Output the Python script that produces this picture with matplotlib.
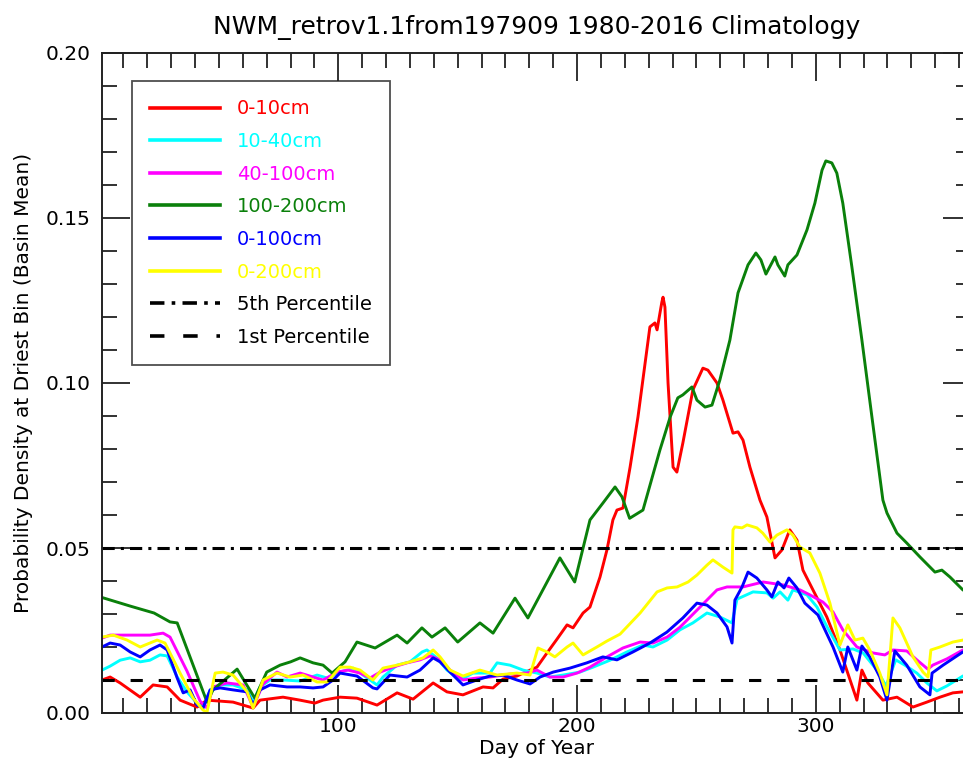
import matplotlib
matplotlib.use('Agg')
import matplotlib.pyplot as plt
from matplotlib.ticker import MultipleLocator

plt.rcParams['font.family'] = ['DejaVu Sans']

# ---- data (day of year, probability density) ----
labels = ['0-10cm', '10-40cm', '40-100cm', '100-200cm', '0-100cm', '0-200cm']
colors = ['#ff0000', '#00ffff', '#ff00ff', '#0a800a', '#0000ff', '#ffff00']

red_day = [1, 4.4, 8.6, 17, 22.4, 28.3, 33.7, 40.8, 45, 55.9, 64.3, 67.2, 76.8, 83.9, 90.2,
           93.6, 100.7, 107.8, 116.2, 124.6, 131.3, 139.7, 145.5, 152.2, 160.6, 164.8, 169,
           174.8, 180.3, 183.2, 187.4, 191.6, 195.8, 198.3, 202.5, 205.4, 209.6, 212.5, 215,
           216.7, 219.2, 222.2, 225.5, 230.5, 232.6, 233.5, 235.5, 236, 236.8, 238.1, 240.2,
           241.8, 244.3, 248.5, 252.7, 254.8, 258.6, 261.1, 265.3, 267.4, 269.5, 272.4, 276.6,
           279.5, 282.9, 285.8, 289.1, 292.1, 294.6, 298.8, 304.6, 310.1, 317.2, 319.3, 321.8,
           328.1, 334, 340.7, 346.5, 352, 357.4, 361.6, 365]
red_val = [.0100, .0109, .0091, .0048, .0085, .0079, .0039, .0018, .0039, .0033, .0015, .0039,
           .0048, .0039, .0030, .0039, .0048, .0045, .0024, .0061, .0042, .0091, .0064, .0055,
           .0079, .0076, .0103, .0112, .0130, .0139, .0182, .0224, .0267, .0258, .0303, .0321,
           .0412, .0494, .0585, .0615, .0621, .0745, .0897, .1170, .1182, .1161, .1245, .1260,
           .1230, .1000, .0745, .0730, .0818, .0979, .1045, .1039, .1000, .0948, .0848, .0852,
           .0827, .0745, .0645, .0594, .0470, .0494, .0555, .0524, .0433, .0373, .0291, .0191,
           .0039, .0130, .0091, .0039, .0048, .0018, .0033, .0048, .0061, .0064, .0062]

cyan_day = [1, 4.4, 8.6, 12.8, 17, 21.1, 25.3, 28.3, 32.5, 36.6, 40.8, 43.3, 46.3, 50.5, 55.9,
            61.8, 64.3, 67.2, 71.4, 76.8, 84, 91.1, 95.3, 100.7, 106.2, 110.3, 116.2, 118.7,
            124.6, 130, 135.1, 137.1, 141.3, 145.5, 151, 156.4, 163.5, 166.5, 171.9, 177.4,
            183.2, 188.6, 194.1, 201.2, 206.7, 213.8, 220.9, 227.6, 231.8, 237.7, 243.1, 248.5,
            254.4, 259.8, 264.9, 267, 273.7, 279.5, 282.1, 285, 288.3, 290.4, 296.3, 300.5,
            304.7, 310.1, 315.6, 319.8, 325.6, 329.4, 333.5, 337.3, 342.3, 346.5, 350.7, 354.9,
            361.6, 365]
cyan_val = [.0130, .0142, .0160, .0167, .0155, .0160, .0176, .0173, .0109, .0064, .0030, .0015,
            .0070, .0085, .0085, .0070, .0033, .0079, .0100, .0100, .0097, .0115, .0106, .0124,
            .0136, .0115, .0085, .0109, .0145, .0155, .0185, .0191, .0167, .0130, .0100, .0121,
            .0121, .0152, .0145, .0130, .0121, .0109, .0115, .0124, .0139, .0160, .0185, .0206,
            .0200, .0221, .0252, .0273, .0303, .0291, .0273, .0345, .0367, .0364, .0348, .0367,
            .0342, .0373, .0358, .0321, .0261, .0191, .0194, .0182, .0130, .0082, .0161, .0145,
            .0121, .0091, .0067, .0082, .0112, .0118]

mag_day = [1, 4.4, 21.1, 26.6, 29.5, 36.6, 42.1, 45, 47.5, 53.4, 60.1, 64.3, 68.5, 74.3, 78.5,
           84, 89.4, 93.6, 99.5, 104, 109.1, 113.3, 117.5, 122.9, 128.8, 134.2, 138.4, 142.6,
           146.8, 152.2, 158, 163.5, 171.9, 179, 183.2, 188.6, 194.1, 200, 205.4, 212.5, 219.2,
           226.4, 231.8, 237.7, 243.1, 251.5, 258.6, 262.8, 269.5, 277.9, 286.3, 293.4, 297.5,
           303, 307.2, 311.3, 317.2, 323.9, 328.9, 332.3, 338.1, 342.3, 346.9, 349, 354.9,
           361.6, 365]
mag_val = [.0227, .0236, .0236, .0242, .0230, .0127, .0036, .0015, .0079, .0091, .0085, .0018,
           .0088, .0124, .0109, .0121, .0109, .0100, .0124, .0130, .0121, .0106, .0124, .0139,
           .0152, .0161, .0173, .0161, .0130, .0100, .0106, .0109, .0118, .0121, .0130, .0109,
           .0109, .0121, .0139, .0170, .0197, .0215, .0212, .0230, .0260, .0321, .0373, .0382,
           .0382, .0397, .0388, .0373, .0358, .0336, .0306, .0252, .0200, .0182, .0176, .0191,
           .0188, .0161, .0133, .0145, .0164, .0191, .0195]

green_day = [1, 1.9, 12.8, 22.8, 29.5, 32.5, 45, 47.5, 57.6, 65, 70, 75.6, 80, 84, 89.4, 93.6,
             97.4, 102.8, 107.8, 115.4, 124.6, 128.8, 135, 139.2, 144.7, 150, 159.3, 164.8,
             174, 179.4, 192.8, 199, 205.4, 210.8, 215.9, 218.8, 222, 227.6, 234.7, 239,
             242.2, 244.3, 248.1, 250.2, 253.6, 256.5, 259.8, 264, 267.4, 271.6, 274.9, 277,
             279.1, 282.9, 284.1, 287, 288.3, 292.1, 296.3, 299.6, 302.6, 304.2, 306.7, 308.8,
             311.3, 315.1, 319.3, 323.5, 328.1, 329.8, 334, 338.1, 343.6, 349.9, 352.8, 356.2,
             361.6, 365]
green_val = [.0350, .0348, .0324, .0303, .0276, .0273, .0033, .0070, .0133, .0045, .0124, .0145,
             .0155, .0167, .0152, .0145, .0121, .0155, .0215, .0197, .0236, .0212, .0258, .0230,
             .0258, .0215, .0273, .0242, .0348, .0288, .0470, .0397, .0585, .0636, .0685, .0655,
             .0590, .0615, .0797, .0897, .0955, .0964, .0988, .0948, .0927, .0933, .1009, .1130,
             .1273, .1358, .1394, .1373, .1330, .1382, .1358, .1324, .1358, .1388, .1464, .1545,
             .1645, .1673, .1667, .1636, .1545, .1352, .1130, .0897, .0645, .0606, .0545, .0515,
             .0473, .0427, .0433, .0412, .0373, .0360]

blue_day = [1, 4.4, 8.6, 12.8, 17, 21.1, 25.3, 28.3, 32.5, 35, 37.9, 40.8, 43.3, 46.3, 50.5,
            55.9, 61.8, 64.3, 67.2, 71.4, 78.5, 84, 89.4, 93.6, 97.8, 100.7, 107.8, 114.5, 116.2,
            121.6, 128.8, 134.2, 139.7, 142.6, 146.8, 152.2, 158, 163.5, 169, 174.8, 180.3,
            184.5, 190, 197, 204.1, 210.8, 216.7, 223.4, 230.5, 237.6, 244.3, 250.2, 254.4,
            258.6, 262.8, 264.9, 266.1, 269.1, 271.6, 275.3, 279.5, 281.6, 284.1, 286.7, 288.7,
            292.1, 295.4, 300.9, 307.2, 311.3, 313.4, 317.2, 319.3, 322.6, 326.8, 329.8, 333.1,
            338.1, 343.6, 347.8, 348.7, 353.3, 361.6, 365]
blue_val = [.0200, .0212, .0206, .0185, .0170, .0191, .0206, .0191, .0106, .0061, .0070, .0024,
            .0015, .0070, .0076, .0070, .0064, .0024, .0070, .0085, .0079, .0079, .0076, .0079,
            .0100, .0121, .0112, .0076, .0073, .0115, .0109, .0130, .0167, .0155, .0124, .0085,
            .0100, .0112, .0115, .0100, .0088, .0109, .0124, .0136, .0152, .0170, .0161, .0185,
            .0212, .0245, .0288, .0333, .0327, .0303, .0261, .0212, .0342, .0382, .0427, .0409,
            .0373, .0352, .0397, .0379, .0409, .0379, .0333, .0297, .0200, .0124, .0200, .0130,
            .0203, .0170, .0109, .0039, .0188, .0145, .0079, .0055, .0121, .0145, .0185, .0188]

yel_day = [1, 5.7, 11.5, 17, 24.1, 27.4, 33.7, 39.2, 43.3, 45, 48.4, 51.7, 55.9, 61.8, 64.3,
           68.5, 74.3, 79.8, 85.2, 91.1, 95.3, 100.7, 104.9, 109.1, 114.5, 118.7, 124.6, 130,
           135.5, 139.7, 142.6, 146.8, 152.2, 159.3, 166.5, 174.8, 180.3, 183.6, 187.4, 190.7,
           195.8, 198.3, 202.5, 208.3, 212.5, 218, 226.4, 233.5, 237.7, 241.9, 246.5, 250.2,
           254.4, 256.9, 261.1, 264.9, 265.3, 266.1, 269.1, 271.2, 275.3, 277.8, 280.8, 283.7,
           287.9, 290.4, 293.3, 297.5, 301.7, 305.9, 310.1, 313.4, 316.4, 319.7, 322.6, 326.8,
           329.8, 332.3, 335.2, 340.7, 344.9, 347, 348.2, 352, 357.4, 361.6, 365]
yel_val = [.0230, .0236, .0221, .0200, .0221, .0212, .0121, .0045, .0009, .0003, .0121, .0124,
           .0115, .0064, .0015, .0100, .0121, .0109, .0115, .0094, .0094, .0139, .0139, .0130,
           .0100, .0136, .0145, .0155, .0167, .0191, .0170, .0130, .0112, .0130, .0115, .0121,
           .0115, .0197, .0185, .0170, .0200, .0212, .0176, .0200, .0218, .0239, .0303, .0367,
           .0379, .0382, .0397, .0418, .0448, .0464, .0442, .0424, .0555, .0564, .0561, .0570,
           .0561, .0545, .0518, .0539, .0555, .0539, .0503, .0485, .0424, .0333, .0206, .0267,
           .0221, .0227, .0191, .0121, .0055, .0288, .0258, .0170, .0124, .0109, .0191, .0200,
           .0215, .0221, .0222]

series_day = [red_day, cyan_day, mag_day, green_day, blue_day, yel_day]
series_val = [red_val, cyan_val, mag_val, green_val, blue_val, yel_val]

pct5 = 0.05
pct1 = 0.01

# ---- figure ----
fig = plt.figure(figsize=(9.63, 7.62), dpi=100)
ax = fig.add_axes([102 / 963, 49 / 762, 869 / 963, 660 / 762])

for d, v, c, lab in zip(series_day, series_val, colors, labels):
    ax.plot(d, v, color=c, lw=2.1, label=lab)

ax.plot([1, 365], [pct5, pct5], color='black', lw=2.2, dashes=(4, 2, 1, 2), label='5th Percentile')
ax.plot([1, 365], [pct1, pct1], color='black', lw=2.2, dashes=(4, 5.2), label='1st Percentile')

ax.set_xlim(1, 365)
ax.set_ylim(0, 0.20)
ax.xaxis.set_major_locator(MultipleLocator(100))
ax.xaxis.set_minor_locator(MultipleLocator(10))
ax.yaxis.set_major_locator(MultipleLocator(0.05))
ax.yaxis.set_minor_locator(MultipleLocator(0.01))
ax.yaxis.set_major_formatter(matplotlib.ticker.FormatStrFormatter('%.2f'))

ax.tick_params(which='both', direction='in', top=True, right=True, color='#222222', width=1.3)
ax.tick_params(which='major', length=20)
ax.tick_params(which='minor', length=11)
ax.tick_params(axis='x', labelsize=14.5, pad=3)
ax.tick_params(axis='y', labelsize=14.5, pad=8)
for s in ax.spines.values():
    s.set_color('#222222')
    s.set_linewidth(1.4)

ax.set_xlabel('Day of Year', fontsize=14.5, labelpad=2)
ax.set_ylabel('Probability Density at Driest Bin (Basin Mean)', fontsize=14.5, labelpad=9)
ax.set_title('NWM_retrov1.1from197909 1980-2016 Climatology', fontsize=18, pad=14)

leg = ax.legend(loc='upper left', bbox_to_anchor=(30 / 869, 632 / 660), borderaxespad=0,
                fontsize=14, handlelength=3.6, handletextpad=0.85, labelspacing=0.7,
                borderpad=0.95, fancybox=False, frameon=True, edgecolor='#222222')
leg.get_frame().set_linewidth(1.3)
for txt, c in zip(leg.get_texts(), colors + ['black', 'black']):
    txt.set_color(c)
for ln in leg.get_lines():
    ln.set_linewidth(2.6)

fig.savefig('out.png', dpi=100)
